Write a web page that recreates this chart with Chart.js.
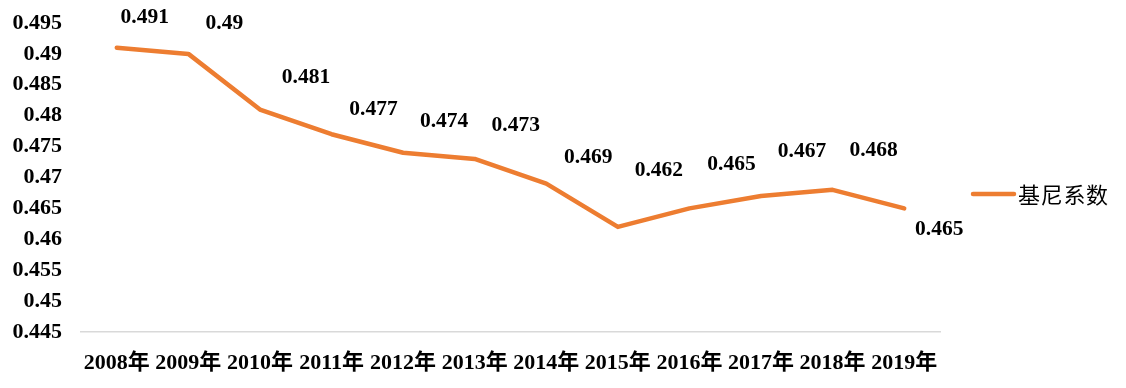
<!DOCTYPE html>
<html>
<head>
<meta charset="utf-8">
<script src="https://cdn.jsdelivr.net/npm/chart.js@4/dist/chart.umd.min.js"></script>
<style>
html,body{margin:0;padding:0;background:#fff;}
#wrap{width:1126px;height:388px;position:relative;}
</style>
</head>
<body>
<div id="wrap"><canvas id="c" width="1126" height="388"></canvas></div>
<script>
const categories = ['2008年','2009年','2010年','2011年','2012年','2013年','2014年','2015年','2016年','2017年','2018年','2019年'];
const seriesName = '基尼系数';
const giniValues = [0.491, 0.490, 0.481, 0.477, 0.474, 0.473, 0.469, 0.462, 0.465, 0.467, 0.468, 0.465];
const yTickMin = 0.445, yTickMax = 0.495, yTickStep = 0.005;

// label placement offsets relative to each point (styling, not data)
const labelDX = [28, 36, 46, 42, 41, 41, 42, 41, 42, 41, 41, 35];
const labelDY = [-30, -30, -32, -25, -31, -34, -26, -56, -44, -45, -39, 21];

const FONT = "'Liberation Serif','Times New Roman','Noto Sans CJK SC',serif";
const ORANGE = '#ED7D31';

const dataLabels = {
  id: 'dataLabels',
  afterDatasetsDraw(chart) {
    const ctx = chart.ctx;
    const meta = chart.getDatasetMeta(0);
    ctx.save();
    ctx.font = 'bold 21.5px ' + FONT;
    ctx.fillStyle = '#000';
    ctx.textAlign = 'center';
    ctx.textBaseline = 'middle';
    meta.data.forEach((pt, i) => {
      const v = chart.data.datasets[0].data[i];
      ctx.fillText(String(v), pt.x + labelDX[i], pt.y + labelDY[i]);
    });
    ctx.restore();
  }
};

const customLegend = {
  id: 'customLegend',
  afterDraw(chart) {
    const ctx = chart.ctx;
    const ds = chart.data.datasets[0];
    ctx.save();
    ctx.strokeStyle = ds.borderColor;
    ctx.lineWidth = 4.5;
    ctx.lineCap = 'round';
    ctx.beginPath();
    ctx.moveTo(973, 194);
    ctx.lineTo(1014, 194);
    ctx.stroke();
    ctx.font = "22px 'Noto Sans CJK SC', sans-serif";
    ctx.fillStyle = '#000';
    ctx.textAlign = 'left';
    ctx.textBaseline = 'middle';
    let x = 1018;
    for (const ch of ds.label) {
      ctx.fillText(ch, x, 195);
      x += ctx.measureText(ch).width + 0.7;
    }
    ctx.restore();
  }
};

new Chart(document.getElementById('c'), {
  type: 'line',
  data: {
    labels: categories,
    datasets: [{
      label: seriesName,
      data: giniValues,
      borderColor: ORANGE,
      backgroundColor: ORANGE,
      borderWidth: 4.5,
      pointRadius: 0,
      pointHoverRadius: 0,
      tension: 0,
      fill: false,
      borderJoinStyle: 'round',
      borderCapStyle: 'round'
    }]
  },
  options: {
    responsive: false,
    animation: false,
    devicePixelRatio: 1,
    layout: { padding: { top: 23, right: 186, bottom: 0, left: 0 } },
    plugins: {
      legend: { display: false },
      tooltip: { enabled: false }
    },
    scales: {
      x: {
        offset: true,
        grid: { display: false, drawTicks: false },
        border: { display: true, color: '#d9d9d9', width: 1.5 },
        ticks: {
          color: '#000',
          font: { family: FONT, size: 22, weight: 'bold' },
          padding: 18,
          maxRotation: 0,
          autoSkip: false
        },
        afterFit(s) { s.height = 56; }
      },
      y: {
        min: yTickMin,
        max: yTickMax,
        grid: { display: false, drawTicks: true, tickLength: 19 },
        border: { display: false },
        ticks: {
          stepSize: yTickStep,
          color: '#000',
          font: { family: FONT, size: 22, weight: 'bold' },
          padding: 0,
          callback: (v) => String(Number(v.toFixed(3)))
        },
        afterFit(s) { s.width = 81; }
      }
    }
  },
  plugins: [dataLabels, customLegend]
});
</script>
</body>
</html>
